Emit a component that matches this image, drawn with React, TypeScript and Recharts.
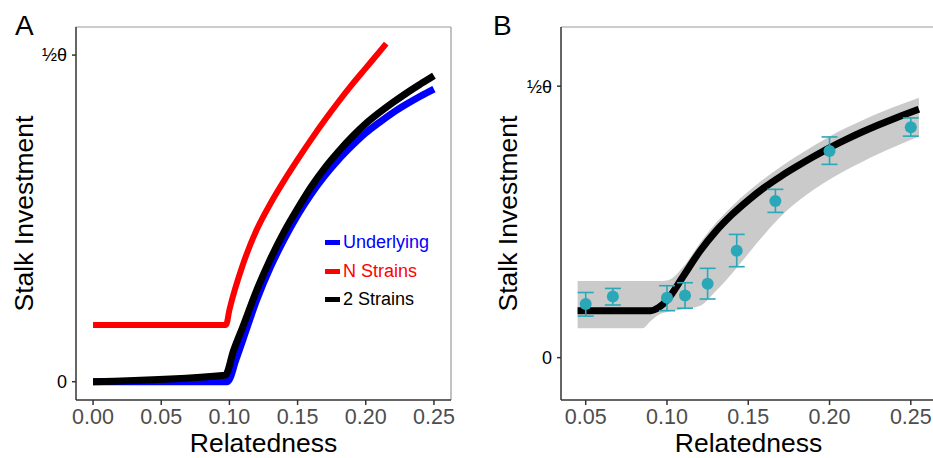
import React from 'react';
import { LineChart, Line, XAxis, YAxis, ComposedChart, Area, ErrorBar, Legend, Label, ReferenceLine } from 'recharts';

// Panel A: predicted stalk investment (½θ = 1)
const rUnderlying = [0, 0.0985, 0.105, 0.11, 0.12, 0.13, 0.14, 0.15, 0.16, 0.17, 0.18, 0.19, 0.2, 0.21, 0.22, 0.23, 0.24, 0.25];
const underlying = [0, 0, 0.07, 0.13, 0.25, 0.35, 0.435, 0.51, 0.575, 0.631, 0.68, 0.723, 0.762, 0.794, 0.824, 0.85, 0.874, 0.896];

const rNStrains = [0, 0.0975, 0.1, 0.11, 0.12, 0.13, 0.14, 0.15, 0.16, 0.17, 0.18, 0.19, 0.2, 0.21, 0.215];
const nStrains = [0.174, 0.174, 0.22, 0.36, 0.465, 0.545, 0.615, 0.68, 0.742, 0.801, 0.857, 0.91, 0.96, 1.01, 1.035];

const rTwoStrains = [0, 0.097, 0.103, 0.11, 0.12, 0.13, 0.14, 0.15, 0.16, 0.17, 0.18, 0.19, 0.2, 0.21, 0.22, 0.23, 0.24, 0.25];
const twoStrains = [0, 0.02, 0.095, 0.17, 0.28, 0.375, 0.458, 0.53, 0.597, 0.655, 0.705, 0.75, 0.79, 0.824, 0.855, 0.884, 0.911, 0.937];

const legendNames = ['Underlying', 'N Strains', '2 Strains'];

// Panel B: fitted curve with band, and observations
const rFit = [0.045, 0.085, 0.09, 0.095, 0.1, 0.11, 0.12, 0.13, 0.14, 0.15, 0.16, 0.17, 0.18, 0.19, 0.2, 0.21, 0.22, 0.23, 0.24, 0.255];
const fit = [0.173, 0.173, 0.173, 0.185, 0.212, 0.3, 0.39, 0.465, 0.527, 0.58, 0.627, 0.668, 0.705, 0.74, 0.773, 0.803, 0.831, 0.857, 0.881, 0.915];
const bandLow = [0.108, 0.108, 0.135, 0.158, 0.168, 0.178, 0.19, 0.245, 0.31, 0.383, 0.455, 0.52, 0.573, 0.618, 0.656, 0.69, 0.721, 0.75, 0.777, 0.815];
const bandHigh = [0.282, 0.282, 0.282, 0.282, 0.284, 0.335, 0.42, 0.495, 0.558, 0.612, 0.66, 0.703, 0.743, 0.78, 0.815, 0.846, 0.874, 0.9, 0.924, 0.957];

const rObs = [0.05, 0.0667, 0.1, 0.1111, 0.125, 0.1429, 0.1667, 0.2, 0.25];
const obs = [0.198, 0.225, 0.221, 0.229, 0.272, 0.394, 0.577, 0.761, 0.849];
const obsLow = [0.153, 0.194, 0.173, 0.182, 0.216, 0.335, 0.535, 0.712, 0.816];
const obsHigh = [0.24, 0.255, 0.265, 0.276, 0.329, 0.454, 0.62, 0.813, 0.883];

const ticksA = [0, 0.05, 0.1, 0.15, 0.2, 0.25];
const ticksB = [0.05, 0.1, 0.15, 0.2, 0.25];
const yTicks = [0, 1];
const yTickLabels = ['0', '½θ'];

const domXA: [number, number] = [-0.0125, 0.2625];
const domYA: [number, number] = [-0.056, 1.086];
const domXB: [number, number] = [0.0348, 0.2655];
const domYB: [number, number] = [-0.156, 1.218];

const BLUE = '#0000ff';
const RED = '#ff0000';
const BLACK = '#000000';
const TEAL = '#2aa8b8';
const BAND = '#cacaca';
const FONT = '"Liberation Sans", Arial, Helvetica, sans-serif';

const toRows = (rs: number[], vs: number[]) => rs.map((r, i) => ({ r, v: vs[i] }));

const dataUnderlying = toRows(rUnderlying, underlying);
const dataN = toRows(rNStrains, nStrains);
const dataTwo = toRows(rTwoStrains, twoStrains);

const dataFit = rFit.map((r, i) => ({ r, v: fit[i], band: [bandLow[i], bandHigh[i]] }));
const dataObs = rObs.map((r, i) => ({ r, v: obs[i], err: [obs[i] - obsLow[i], obsHigh[i] - obs[i]] }));

const xTick = { fill: '#4d4d4d', fontSize: 21.5, fontFamily: FONT };
const yTick = { fill: '#000', fontSize: 18, fontFamily: FONT };
const yFmt = (v: number) => yTickLabels[yTicks.indexOf(v)] ?? '';

const yTitle = (baselineX: number) => (props: any) => {
  const vb = props.viewBox || {};
  const y = (vb.y ?? 27) + (vb.height ?? 373) / 2;
  return (
    <text x={baselineX} y={y} transform={`rotate(-90, ${baselineX}, ${y})`} textAnchor="middle"
      fontSize={26.5} fontFamily={FONT} fill="#000">
      Stalk Investment
    </text>
  );
};

const xTitle = (props: any) => {
  const vb = props.viewBox || {};
  const x = (vb.x ?? 0) + (vb.width ?? 0) / 2;
  return (
    <text x={x} y={(vb.y ?? 400) + 52} textAnchor="middle" fontSize={26.5} fontFamily={FONT} fill="#000">
      Relatedness
    </text>
  );
};

const legendColors = [BLUE, RED, BLACK];

const LegendA = () => (
  <div style={{ fontFamily: FONT, fontSize: 18, lineHeight: '28.7px' }}>
    {legendNames.map((name, i) => (
      <div key={name} style={{ display: 'flex', alignItems: 'center', color: legendColors[i] }}>
        <span style={{ display: 'inline-block', width: 15, height: 5, background: legendColors[i], marginRight: 3 }} />
        {name}
      </div>
    ))}
  </div>
);

const letter = (t: string, left: number) => (
  <div style={{ position: 'absolute', left, top: 10, fontFamily: FONT, fontSize: 28, lineHeight: '32px', color: '#000' }}>{t}</div>
);

export default function App() {
  return (
    <div style={{ position: 'absolute', left: 0, top: 0, width: 933, height: 458, overflow: 'hidden', background: '#fff' }}>
      <div style={{ position: 'absolute', left: 0, top: 0 }}>
        <LineChart width={470} height={458} margin={{ top: 27, right: 19, left: 0, bottom: 0 }}>
          <XAxis dataKey="r" type="number" domain={domXA} ticks={ticksA} allowDataOverflow
            tickFormatter={(v: number) => v.toFixed(2)} tick={xTick} height={58} tickSize={5} tickMargin={4}
            stroke="#333" strokeWidth={1.5} interval={0}>
            <Label content={xTitle} />
          </XAxis>
          <YAxis type="number" domain={domYA} ticks={yTicks} tickFormatter={yFmt} tick={yTick}
            width={76} tickSize={4} tickMargin={5} stroke="#333" strokeWidth={1.5} allowDataOverflow interval={0}>
            <Label content={yTitle(33)} />
          </YAxis>
          <ReferenceLine y={domYA[1]} stroke="#999" strokeWidth={1.2} />
          <ReferenceLine x={domXA[1]} stroke="#999" strokeWidth={1.2} />
          <Legend layout="vertical" align="center" verticalAlign="middle" content={LegendA}
            wrapperStyle={{ position: 'absolute', left: 325, top: 228, width: 'auto', height: 'auto' }} />
          <Line data={dataN} dataKey="v" name="N Strains" type="monotone" stroke={RED} strokeWidth={6}
            dot={false} activeDot={false} isAnimationActive={false} />
          <Line data={dataUnderlying} dataKey="v" name="Underlying" type="monotone" stroke={BLUE} strokeWidth={7}
            dot={false} activeDot={false} isAnimationActive={false} />
          <Line data={dataTwo} dataKey="v" name="2 Strains" type="monotone" stroke={BLACK} strokeWidth={7}
            dot={false} activeDot={false} isAnimationActive={false} />
        </LineChart>
        {letter('A', 15)}
      </div>

      <div style={{ position: 'absolute', left: 470, top: 0 }}>
        <ComposedChart width={470} height={458} margin={{ top: 27, right: 4, left: 0, bottom: 0 }}>
          <XAxis dataKey="r" type="number" domain={domXB} ticks={ticksB} allowDataOverflow
            tickFormatter={(v: number) => v.toFixed(2)} tick={xTick} height={58} tickSize={5} tickMargin={4}
            stroke="#333" strokeWidth={1.5} interval={0}>
            <Label content={xTitle} />
          </XAxis>
          <YAxis type="number" domain={domYB} ticks={yTicks} tickFormatter={yFmt} tick={yTick}
            width={91} tickSize={4} tickMargin={5} stroke="#333" strokeWidth={1.5} allowDataOverflow interval={0}>
            <Label content={yTitle(46.5)} />
          </YAxis>
          <ReferenceLine y={domYB[1]} stroke="#999" strokeWidth={1.2} />
          <Area data={dataFit} dataKey="band" type="monotone" stroke="none" fill={BAND} fillOpacity={1}
            activeDot={false} isAnimationActive={false} />
          <Line data={dataFit} dataKey="v" type="monotone" stroke={BLACK} strokeWidth={7}
            dot={false} activeDot={false} isAnimationActive={false} />
          <Line data={dataObs} dataKey="v" stroke="none" dot={{ r: 6, fill: TEAL, stroke: TEAL, strokeWidth: 0 }}
            activeDot={false} isAnimationActive={false}>
            <ErrorBar dataKey="err" direction="y" width={8} stroke={TEAL} strokeWidth={1.6} />
          </Line>
        </ComposedChart>
        {letter('B', 23)}
      </div>
    </div>
  );
}
